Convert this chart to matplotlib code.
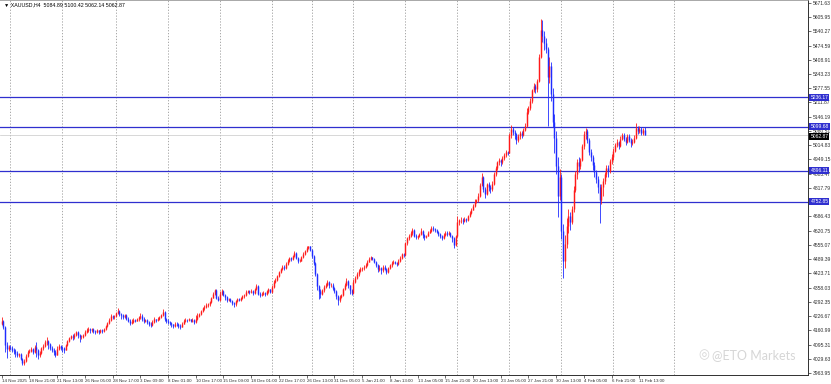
import matplotlib
matplotlib.use("Agg")
import matplotlib.pyplot as plt
import matplotlib.transforms as mtransforms

header = "XAUUSD,H4  5084.89 5100.42 5062.14 5062.87"
first_open = 4192
closes = [
    4205, 4178, 4095, 4075, 4085,
    4080, 4072, 4065, 4058, 4045, 4050, 4030, 4012, 4020, 4042, 4060, 4066,
    4075, 4062, 4082, 4070, 4045, 4055, 4078, 4090, 4105, 4112, 4098, 4080,
    4072, 4060, 4048, 4075, 4088, 4080,
    4078, 4070, 4092, 4110, 4125, 4135, 4128, 4140, 4152, 4138, 4130, 4132,
    4140, 4155, 4162, 4168, 4160, 4165, 4158, 4152, 4160, 4155, 4162, 4158,
    4165, 4180, 4195, 4210, 4228, 4222, 4225,
    4240, 4250, 4238, 4230, 4222, 4230, 4215, 4205, 4195, 4200, 4210, 4205,
    4212, 4220, 4228, 4215, 4205, 4208, 4200, 4192, 4185, 4200, 4212, 4208,
    4215, 4222, 4230, 4245, 4212, 4205,
    4200, 4195, 4188, 4182, 4192, 4190, 4182, 4178, 4190, 4205, 4210, 4208,
    4212, 4205, 4210, 4200, 4215, 4228, 4235, 4250, 4262, 4270, 4278, 4280,
    4292, 4310, 4330, 4345, 4310, 4300,
    4330, 4342, 4325, 4315, 4302, 4305, 4298, 4288, 4280, 4295, 4305, 4302,
    4310, 4318, 4325, 4338, 4342, 4338, 4342, 4335, 4350, 4365, 4330, 4325,
    4330, 4335, 4328, 4342, 4350, 4338,
    4362, 4385, 4395, 4410, 4428, 4442, 4455, 4450, 4468, 4482, 4495, 4488,
    4502, 4518, 4495, 4480, 4482, 4498, 4512, 4525, 4540, 4548, 4532,
    4505, 4470, 4420, 4365, 4340, 4330, 4345, 4360, 4372, 4385, 4368, 4372,
    4355, 4340, 4318, 4300, 4315, 4322, 4350, 4372, 4390, 4368, 4345, 4332,
    4385, 4402, 4420, 4435, 4445, 4448, 4455, 4462, 4478, 4490, 4498, 4492,
    4478, 4460, 4442, 4450, 4438, 4455, 4445, 4432, 4448, 4460, 4472, 4478,
    4472, 4468, 4480, 4495, 4512, 4508,
    4562, 4585, 4598, 4610, 4625, 4598, 4590, 4595, 4605, 4618, 4600, 4590,
    4598, 4612, 4620, 4635, 4628, 4625, 4615, 4605, 4598, 4585, 4600, 4612,
    4605, 4612, 4598, 4585, 4555, 4595,
    4660, 4668, 4672, 4665, 4675, 4670, 4688, 4702, 4718, 4735, 4752, 4762,
    4780, 4830, 4868, 4815, 4790, 4835, 4820, 4812, 4835, 4880, 4910, 4935,
    4948, 4935, 4955, 4970, 4985, 4980,
    5060, 5088, 5075, 5065, 5040, 5055, 5070, 5062, 5085, 5105, 5170, 5185,
    5220, 5268, 5290, 5275, 5310, 5420, 5545, 5520, 5485, 5460, 5330, 5380,
    5250, 5120, 5050, 4920, 4780, 4870,
    4620, 4480, 4560, 4640, 4690, 4660, 4720, 4810, 4880, 4935, 4920, 4948,
    5010, 5065, 5082, 5040, 4985, 4962, 4925, 4890, 4860, 4820, 4760, 4820,
    4850, 4880, 4910, 4895, 4940, 4962,
    4990, 5015, 5030, 5010, 5045, 5060, 5045, 5030, 5055, 5040, 5025, 5030,
    5048, 5095, 5082, 5090, 5070, 5084.89, 5062.87,
]
highs = [
    4222, 4210, 4180, 4105, 4095,
    4095, 4088, 4080, 4075, 4065, 4058, 4055, 4035, 4030, 4050, 4068, 4075,
    4085, 4080, 4095, 4105, 4075, 4065, 4085, 4100, 4115, 4132, 4118, 4102,
    4090, 4078, 4070, 4090, 4098, 4092,
    4088, 4082, 4098, 4118, 4132, 4140, 4142, 4148, 4158, 4158, 4145, 4140,
    4145, 4160, 4170, 4175, 4172, 4170, 4170, 4162, 4165, 4164, 4168, 4165,
    4170, 4185, 4200, 4218, 4235, 4232, 4230,
    4245, 4262, 4255, 4242, 4235, 4238, 4235, 4222, 4212, 4212, 4218, 4215,
    4218, 4228, 4240, 4235, 4222, 4212, 4212, 4205, 4198, 4208, 4220, 4215,
    4220, 4228, 4238, 4258, 4250, 4218,
    4212, 4205, 4198, 4192, 4200, 4198, 4195, 4188, 4198, 4212, 4218, 4215,
    4218, 4215, 4218, 4215, 4232, 4240, 4240, 4255, 4268, 4278, 4285, 4288,
    4298, 4315, 4338, 4353, 4350, 4318,
    4340, 4350, 4348, 4330, 4320, 4312, 4310, 4302, 4292, 4300, 4312, 4310,
    4315, 4322, 4330, 4345, 4348, 4345, 4350, 4345, 4355, 4375, 4370, 4338,
    4338, 4342, 4338, 4348, 4358, 4352,
    4370, 4392, 4402, 4418, 4435, 4448, 4460, 4462, 4475, 4490, 4498, 4497,
    4508, 4525, 4522, 4498, 4488, 4505, 4520, 4532, 4550, 4552, 4550,
    4535, 4510, 4475, 4425, 4370, 4350, 4352, 4370, 4380, 4395, 4390, 4380,
    4378, 4360, 4345, 4325, 4325, 4330, 4358, 4380, 4402, 4395, 4372, 4350,
    4398, 4410, 4428, 4442, 4452, 4455, 4460, 4470, 4485, 4498, 4502, 4500,
    4495, 4482, 4465, 4462, 4455, 4462, 4460, 4450, 4455, 4468, 4480, 4485,
    4482, 4478, 4488, 4502, 4518, 4516,
    4568, 4592, 4605, 4618, 4632, 4630, 4605, 4602, 4612, 4632, 4625, 4605,
    4602, 4618, 4628, 4642, 4640, 4632, 4630, 4620, 4610, 4602, 4608, 4620,
    4618, 4618, 4615, 4600, 4590, 4602,
    4690, 4675, 4682, 4680, 4685, 4680, 4695, 4710, 4725, 4742, 4765, 4768,
    4792, 4840, 4888, 4872, 4822, 4842, 4845, 4830, 4850, 4890, 4920, 4942,
    4955, 4952, 4965, 4978, 4992, 4990,
    5070, 5110, 5098, 5085, 5072, 5065, 5078, 5080, 5092, 5118, 5185, 5195,
    5232, 5275, 5302, 5298, 5322, 5435, 5598, 5592, 5540, 5510, 5468, 5420,
    5400, 5280, 5160, 5080, 4960, 4905,
    4880, 4650, 4600, 4680, 4720, 4705, 4735, 4825, 4895, 4952, 4960, 4958,
    5020, 5078, 5092, 5088, 5050, 4998, 4970, 4935, 4902, 4875, 4835, 4835,
    4865, 4892, 4925, 4925, 4950, 4975,
    5000, 5025, 5042, 5035, 5055, 5070, 5072, 5052, 5068, 5065, 5050, 5042,
    5060, 5118, 5102, 5105, 5098, 5092, 5100.42,
]
lows = [
    4185, 4165, 4060, 4032, 4065,
    4068, 4060, 4052, 4040, 4036, 4040, 4022, 4000, 4003, 4015, 4038, 4055,
    4060, 4050, 4058, 4040, 4028, 4038, 4050, 4072, 4085, 4095, 4075, 4068,
    4060, 4045, 4038, 4045, 4070, 4070,
    4060, 4058, 4068, 4088, 4105, 4120, 4118, 4122, 4135, 4125, 4108, 4122,
    4125, 4135, 4148, 4155, 4150, 4155, 4150, 4145, 4148, 4146, 4150, 4150,
    4152, 4160, 4178, 4190, 4205, 4212, 4215,
    4220, 4235, 4225, 4215, 4212, 4218, 4208, 4198, 4185, 4188, 4195, 4198,
    4202, 4205, 4215, 4202, 4195, 4200, 4192, 4182, 4175, 4180, 4195, 4200,
    4202, 4208, 4218, 4225, 4205, 4195,
    4192, 4185, 4178, 4172, 4178, 4182, 4172, 4168, 4175, 4188, 4200, 4200,
    4202, 4198, 4200, 4192, 4195, 4210, 4222, 4232, 4245, 4255, 4265, 4270,
    4275, 4288, 4308, 4325, 4305, 4295,
    4298, 4325, 4318, 4300, 4290, 4295, 4290, 4278, 4270, 4275, 4290, 4295,
    4298, 4305, 4312, 4320, 4332, 4330, 4332, 4325, 4330, 4345, 4322, 4315,
    4318, 4325, 4318, 4325, 4335, 4332,
    4332, 4358, 4380, 4390, 4405, 4425, 4438, 4440, 4445, 4462, 4478, 4480,
    4485, 4498, 4488, 4470, 4475, 4480, 4495, 4510, 4520, 4535, 4528,
    4495, 4460, 4410, 4345, 4305, 4312, 4325, 4338, 4355, 4365, 4355, 4362,
    4348, 4332, 4305, 4278, 4290, 4308, 4318, 4345, 4365, 4355, 4330, 4325,
    4328, 4380, 4398, 4412, 4428, 4435, 4440, 4448, 4458, 4475, 4485, 4485,
    4470, 4452, 4428, 4435, 4420, 4432, 4438, 4420, 4425, 4442, 4455, 4465,
    4465, 4458, 4462, 4475, 4490, 4500,
    4505, 4555, 4578, 4590, 4600, 4590, 4582, 4582, 4590, 4600, 4588, 4578,
    4585, 4595, 4608, 4615, 4618, 4615, 4608, 4595, 4588, 4578, 4580, 4595,
    4598, 4600, 4590, 4570, 4540, 4550,
    4592, 4648, 4658, 4652, 4660, 4660, 4665, 4685, 4698, 4715, 4730, 4748,
    4755, 4775, 4825, 4800, 4770, 4785, 4805, 4795, 4805, 4830, 4872, 4900,
    4925, 4920, 4930, 4948, 4962, 4968,
    4978, 5050, 5060, 5045, 5020, 5030, 5042, 5048, 5058, 5078, 5100, 5160,
    5175, 5210, 5258, 5255, 5262, 5305, 5415, 5490, 5455, 5440, 5105, 5300,
    5220, 5100, 4980, 4880, 4682, 4760,
    4580, 4402, 4450, 4540, 4610, 4625, 4650, 4705, 4800, 4860, 4890, 4905,
    4940, 4995, 5045, 5025, 4970, 4940, 4900, 4870, 4840, 4795, 4655, 4745,
    4780, 4835, 4868, 4870, 4885, 4930,
    4945, 4982, 5005, 4995, 5005, 5040, 5035, 5015, 5025, 5028, 5005, 5015,
    5025, 5045, 5068, 5072, 5060, 5062, 5062.14,
]
time_labels = [
    "14 Nov 2025", "18 Nov 21:00", "21 Nov 13:00", "26 Nov 05:00", "28 Nov 17:00",
    "3 Dec 09:00", "8 Dec 01:00", "10 Dec 17:00", "15 Dec 09:00", "18 Dec 01:00",
    "22 Dec 17:00", "26 Dec 13:00", "31 Dec 05:00", "5 Jan 21:00", "8 Jan 13:00",
    "13 Jan 05:00", "15 Jan 21:00", "20 Jan 13:00", "23 Jan 05:00", "27 Jan 21:00",
    "30 Jan 13:00", "4 Feb 05:00", "6 Feb 21:00", "11 Feb 13:00",
]
bars_per_label = 16
week_start_bars = [5, 35, 66, 96, 126, 156, 179, 203, 233, 263, 293, 323, 353, 388]
level_prices = [5236.17, 5099.68, 4896.11, 4752.85]
last_price = 5062.87
price_ticks = [
    3963.95, 4029.63, 4095.31, 4160.99, 4226.67, 4292.35, 4358.03, 4423.71,
    4489.39, 4555.07, 4620.75, 4686.43, 4752.11, 4817.79, 4883.47, 4949.15,
    5014.83, 5080.51, 5146.19, 5211.87, 5277.55, 5343.23, 5408.91, 5474.59,
    5540.27, 5605.95, 5671.63,
]
watermark = "@ETO Markets"

opens = [first_open] + closes[:-1]
n = len(closes)
xs = list(range(n))

UP = "#ff1a1a"
DOWN = "#1f2cff"
LEVEL = "#2f2fcf"
FONT = ["Liberation Sans", "DejaVu Sans"]

fig = plt.figure(figsize=(8.31, 3.84), dpi=100)
fig.patch.set_facecolor("white")
ax = fig.add_axes([0.0, 9 / 384, 808 / 831, 375 / 384])
ax.set_facecolor("white")
ax.set_xlim(-0.92, 465.3)
ax.set_ylim(3954.7, 5684.6)

# weekly separators
for wb in week_start_bars:
    ax.axvline(wb, color="#9a9a9a", lw=0.6, ls=(0, (1.5, 2.0)), zorder=1)

# levels
for lp in level_prices:
    ax.axhline(lp, color=LEVEL, lw=0.9, zorder=2)
ax.axhline(last_price, color="#c8c8c8", lw=0.5, zorder=2)

# candles
cols = [UP if c >= o else DOWN for o, c in zip(opens, closes)]
ax.vlines(xs, lows, highs, colors=cols, lw=0.6, zorder=3)
body_lo = [min(o, c) for o, c in zip(opens, closes)]
body_hi = [max(o, c) for o, c in zip(opens, closes)]
ax.vlines(xs, body_lo, body_hi, colors=cols, lw=1.05, zorder=4)

# axes styling
ax.spines["left"].set_visible(False)
ax.spines["top"].set_color("#9a9a9a")
ax.spines["top"].set_linewidth(1.2)
ax.spines["right"].set_color("#303030")
ax.spines["right"].set_linewidth(0.7)
ax.spines["bottom"].set_color("#303030")
ax.spines["bottom"].set_linewidth(0.7)

# price scale (labels hidden where a level box covers them, as on the terminal)
ax.yaxis.tick_right()
ax.set_yticks(price_ticks)
ylabels = []
for p in price_ticks:
    covered = any(abs(p - lp) < 5 for lp in level_prices)
    ylabels.append("" if covered else f"{p:.2f}")
ax.set_yticklabels(ylabels)
ax.tick_params(axis="y", direction="out", length=2, width=0.5, pad=1.5,
               labelsize=3.6, colors="#303030")

tick_pos = [k * bars_per_label for k in range(len(time_labels))]
ax.set_xticks(tick_pos)
ax.set_xticklabels(time_labels)
ax.tick_params(axis="x", direction="out", length=2, width=0.5, pad=1,
               labelsize=3.2, colors="#303030")
for lbl in ax.get_xticklabels() + ax.get_yticklabels():
    lbl.set_fontfamily(FONT)
for lbl in ax.get_xticklabels():
    lbl.set_ha("left")

trans = mtransforms.blended_transform_factory(ax.transAxes, ax.transData)
for lp in level_prices:
    ax.text(1.003, lp, f"{lp:.2f}", transform=trans, fontsize=3.6, color="white",
            family=FONT, va="center", ha="left", clip_on=False, zorder=6,
            bbox=dict(boxstyle="square,pad=0.2", fc=LEVEL, ec="none"))
ax.text(1.003, last_price - 8, f"{last_price:.2f}", transform=trans, fontsize=3.6,
        color="white", family=FONT, va="center", ha="left", clip_on=False, zorder=6,
        bbox=dict(boxstyle="square,pad=0.2", fc="black", ec="none"))

# header
fig.text(4 / 831, 1 - 5 / 384, "\u25BC " + header, fontsize=3.8, color="black",
         family=FONT, va="center", ha="left")

# watermark
fig.text(698 / 831, 29 / 384, "\u25CE", fontsize=9, color="#d6d6d6",
         family=["DejaVu Sans"], va="center", ha="left")
fig.text(712 / 831, 29 / 384, watermark, fontsize=9, color="#d6d6d6",
         family=["Lato", "DejaVu Sans"], va="center", ha="left")

fig.savefig("out.png", dpi=100, facecolor="white")
